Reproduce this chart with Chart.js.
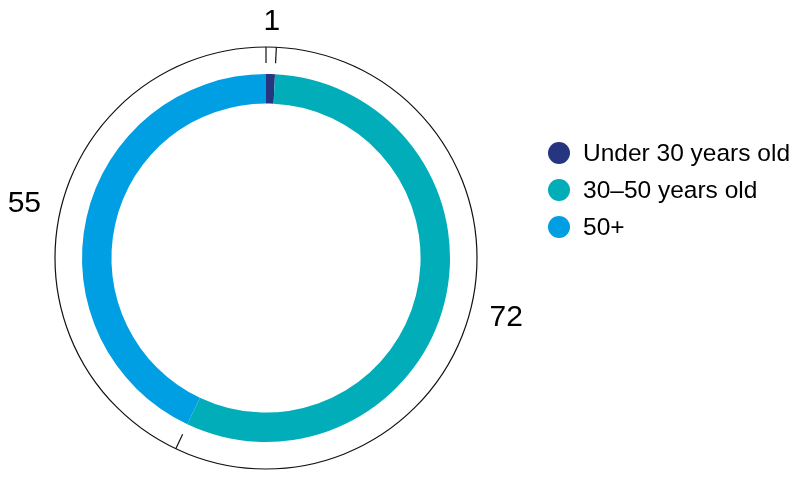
<!DOCTYPE html>
<html>
<head>
<meta charset="utf-8">
<script src="https://cdn.jsdelivr.net/npm/chart.js@4"></script>
<style>
  html, body { margin: 0; padding: 0; background: #fff; }
  #wrap { width: 803px; height: 479px; }
</style>
</head>
<body>
<div id="wrap"><canvas id="chart" width="803" height="479"></canvas></div>
<script>
/* ------------------------------------------------ */

const categories = ['Under 30 years old', '30\u201350 years old', '50+'];
const values = [1, 72, 55];
const colors = ['#263580', '#00adb9', '#009fe3'];

const FONT = '"Liberation Sans", Arial, Helvetica, sans-serif';

/* ------------------------------------------------ */

// thin outer ring, boundary ticks, value labels and the legend
const ringDecor = {
  id: 'ringDecor',
  afterDraw(chart) {
    let ctx = chart.ctx;
    let arcs = chart.getDatasetMeta(0).data;
    if (!arcs.length) return;
    let cx = arcs[0].x;
    let cy = arcs[0].y;
    let R = arcs[0].outerRadius + 27;

    ctx.save();
    ctx.strokeStyle = '#111';
    ctx.lineWidth = 1.2;
    ctx.beginPath();
    ctx.arc(cx, cy, R, 0, Math.PI * 2);
    ctx.stroke();

    // ticks where the segments meet
    arcs.forEach((arc) => {
      let a = arc.startAngle;
      ctx.beginPath();
      ctx.moveTo(cx + R * Math.cos(a), cy + R * Math.sin(a));
      ctx.lineTo(cx + (R - 16) * Math.cos(a), cy + (R - 16) * Math.sin(a));
      ctx.stroke();
    });

    // value labels
    ctx.fillStyle = '#000';
    ctx.font = '30px ' + FONT;
    ctx.textAlign = 'center';
    ctx.textBaseline = 'middle';
    arcs.forEach((arc, i) => {
      let a = (arc.startAngle + arc.endAngle) / 2;
      let r = R + 25 + 12 * Math.abs(Math.cos(a));
      ctx.fillText(String(values[i]), cx + r * Math.cos(a), cy + r * Math.sin(a));
    });

    // legend
    let lx = 559;
    let ly = 153;
    ctx.font = '24.5px ' + FONT;
    ctx.textAlign = 'left';
    categories.forEach((cat, i) => {
      let y = ly + i * 37;
      ctx.fillStyle = colors[i];
      ctx.beginPath();
      ctx.arc(lx, y, 11, 0, Math.PI * 2);
      ctx.fill();
      ctx.fillStyle = '#000';
      ctx.fillText(cat, lx + 24, y + 1);
    });
    ctx.restore();
  }
};

/* ------------------------------------------------ */

function generateChart() {
  let ctx = document.getElementById('chart').getContext('2d');
  return new Chart(ctx, {
    type: 'doughnut',
    data: {
      labels: categories,
      datasets: [{
        data: values,
        backgroundColor: colors,
        borderWidth: 0,
      }],
    },
    options: {
      responsive: false,
      animation: false,
      cutout: '84%',
      layout: { padding: { left: 82, top: 74, right: 353, bottom: 37 } },
      plugins: {
        legend: { display: false },
        tooltip: { enabled: false },
      },
    },
    plugins: [ringDecor],
  });
}

let chart = generateChart();
</script>
</body>
</html>
